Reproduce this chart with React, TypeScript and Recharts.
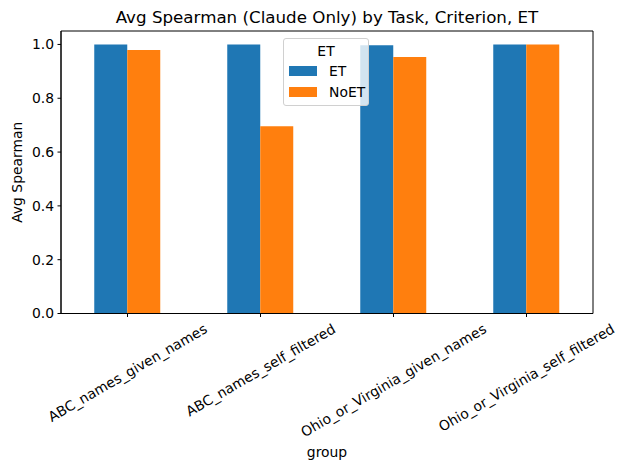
import React from 'react';
import { BarChart, Bar, XAxis, YAxis, Legend, ReferenceArea } from 'recharts';

const groups = [
  'ABC_names_given_names',
  'ABC_names_self_filtered',
  'Ohio_or_Virginia_given_names',
  'Ohio_or_Virginia_self_filtered',
];
const etValues = [1.0, 1.0, 0.997, 1.0];
const noEtValues = [0.979, 0.696, 0.953, 1.0];
const yTicks = [0, 0.2, 0.4, 0.6, 0.8, 1.0];
const yMax = 1.05;

const data = groups.map((g, i) => ({ group: g, ET: etValues[i], NoET: noEtValues[i] }));

const FONT = 'DejaVu Sans';
const TICK_FS = 13.9;

let ctx: CanvasRenderingContext2D | null = null;
function measure(text: string, size: number): number {
  if (!ctx) {
    const c = document.createElement('canvas');
    ctx = c.getContext('2d');
  }
  if (!ctx) return text.length * size * 0.5;
  ctx.font = `${size}px "${FONT}"`;
  return ctx.measureText(text).width;
}

const XTick = (props: any) => {
  const { x, y, payload } = props;
  const text = String(payload.value);
  const L = measure(text, TICK_FS);
  const fh = 16;
  const a = Math.PI / 6;
  const bboxH = L * Math.sin(a) + fh * Math.cos(a);
  const cx = x;
  const cy = y + bboxH / 2;
  return (
    <text
      x={cx}
      y={cy}
      textAnchor="middle"
      dominantBaseline="central"
      fontSize={TICK_FS}
      fontFamily={FONT}
      fill="#000"
      transform={`rotate(-30 ${cx} ${cy})`}
    >
      {text}
    </text>
  );
};

const LegendBox = (props: any) => {
  const payload = props.payload || [];
  return (
    <div
      style={{
        position: 'relative',
        width: 86,
        height: 68,
        boxSizing: 'border-box',
        border: '1px solid #d0d0d0',
        borderRadius: 3,
        background: 'rgba(255,255,255,0.8)',
        fontFamily: FONT,
        fontSize: TICK_FS,
        color: '#000',
      }}
    >
      <div style={{ position: 'absolute', left: 0, width: 84, top: 3, textAlign: 'center', lineHeight: '18px' }}>ET</div>
      {payload.map((p: any, i: number) => (
        <React.Fragment key={p.value}>
          <div
            style={{
              position: 'absolute',
              left: 5,
              top: 27 + i * 21,
              width: 28,
              height: 10,
              background: p.color,
            }}
          />
          <div style={{ position: 'absolute', left: 45, top: 23 + i * 21, lineHeight: '18px', whiteSpace: 'nowrap' }}>
            {p.value}
          </div>
        </React.Fragment>
      ))}
    </div>
  );
};

export default function App() {
  return (
    <div style={{ position: 'absolute', left: 0, top: 0, width: 625, height: 470, fontFamily: FONT, background: '#fff' }}>
      <BarChart
        width={625}
        height={470}
        data={data}
        margin={{ top: 31, right: 32, left: 0, bottom: 0 }}
        barCategoryGap="25%"
        barGap={0}
      >
        <XAxis
          dataKey="group"
          height={156.5}
          interval={0}
          tick={<XTick />}
          tickSize={3.5}
          tickMargin={3.5}
          axisLine={{ stroke: '#000', strokeWidth: 1 }}
          tickLine={{ stroke: '#000', strokeWidth: 1 }}
          label={{
            content: (p: any) => {
              const vb = p.viewBox || {};
              return (
                <text
                  x={vb.x + vb.width / 2}
                  y={452}
                  textAnchor="middle"
                  dominantBaseline="central"
                  fontSize={TICK_FS}
                  fontFamily={FONT}
                  fill="#000"
                >
                  group
                </text>
              );
            },
          }}
        />
        <YAxis
          width={61}
          domain={[0, yMax]}
          ticks={yTicks}
          interval={0}
          allowDataOverflow
          tickFormatter={(v: number) => v.toFixed(1)}
          tickSize={3.5}
          tickMargin={3.5}
          tick={{ fontSize: TICK_FS, fill: '#000', fontFamily: FONT }}
          axisLine={{ stroke: '#000', strokeWidth: 1 }}
          tickLine={{ stroke: '#000', strokeWidth: 1 }}
          label={{
            content: (p: any) => {
              const vb = p.viewBox || {};
              const cx = 17;
              const cy = vb.y + vb.height / 2;
              return (
                <text
                  x={cx}
                  y={cy}
                  textAnchor="middle"
                  dominantBaseline="central"
                  fontSize={TICK_FS}
                  fontFamily={FONT}
                  fill="#000"
                  transform={`rotate(-90 ${cx} ${cy})`}
                >
                  Avg Spearman
                </text>
              );
            },
          }}
        />
        <Legend
          layout="vertical"
          align="center"
          verticalAlign="middle"
          content={<LegendBox />}
          wrapperStyle={{ left: 283, top: 38, width: 86, height: 68 }}
        />
        <Bar dataKey="ET" fill="#1f77b4" isAnimationActive={false} />
        <Bar dataKey="NoET" fill="#ff7f0e" isAnimationActive={false} />
        <ReferenceArea
          y1={0}
          y2={yMax}
          fill="none"
          fillOpacity={0}
          stroke="#000"
          strokeWidth={1}
          strokeOpacity={1}
          ifOverflow="visible"
          label={{
            content: (p: any) => {
              const vb = p.viewBox || {};
              return (
                <text
                  x={vb.x + vb.width / 2}
                  y={23}
                  textAnchor="middle"
                  fontSize={16.7}
                  fontFamily={FONT}
                  fill="#000"
                >
                  Avg Spearman (Claude Only) by Task, Criterion, ET
                </text>
              );
            },
          }}
        />
      </BarChart>
    </div>
  );
}
